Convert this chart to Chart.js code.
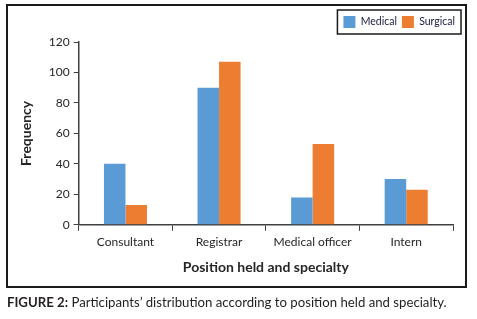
<!DOCTYPE html>
<html><head><meta charset="utf-8">
<script src="https://cdn.jsdelivr.net/npm/chart.js@4.4.1/dist/chart.umd.min.js"></script>
<style>
html,body{margin:0;padding:0;background:#fff;width:477px;height:319px;overflow:hidden;font-family:Lato,"Open Sans",sans-serif;}
#frame{position:absolute;left:6px;top:4px;width:457px;height:280px;border:2px solid #1a1a1a;pointer-events:none;}
#wrap{position:absolute;left:8px;top:6px;width:457px;height:280px;}
#cap{position:absolute;left:7px;top:294px;font-size:13.2px;color:#231f20;white-space:nowrap;}
#cap b{font-weight:700;}
</style></head><body>
<div id="wrap"><canvas id="c" width="457" height="280"></canvas></div>
<div id="frame"></div>
<div id="cap"><b>FIGURE 2:</b> Participants’ distribution according to position held and specialty.</div>
<script>
const categories = ["Consultant","Registrar","Medical officer","Intern"];
const medical = [40, 90, 18, 30];
const surgical = [13, 107, 53, 23];
const seriesNames = ["Medical","Surgical"];
const yTicks = [0,20,40,60,80,100,120];

const legendBorder = {
  id:'legendBorder',
  beforeLayout(chart){
    const lg = chart.legend;
    if(lg && !lg._patched){
      const f = lg.fit.bind(lg);
      lg.fit = function(){ f(); this.height += 4; this.minSize && (this.minSize.height = this.height); };
      lg._patched = true;
    }
  },
  afterDraw(chart){
    const lg = chart.legend;
    if(!lg || !lg.legendHitBoxes || !lg.legendHitBoxes.length) return;
    const hb = lg.legendHitBoxes;
    let x1=Infinity,y1=Infinity,x2=-Infinity,y2=-Infinity;
    hb.forEach(h=>{x1=Math.min(x1,h.left);y1=Math.min(y1,h.top);x2=Math.max(x2,h.left+h.width);y2=Math.max(y2,h.top+h.height);});
    const ctx=chart.ctx;
    ctx.save();
    ctx.strokeStyle='#1a1a1a';ctx.lineWidth=1.5;
    ctx.strokeRect(x1-6,y1-6,(x2-x1)+12,(y2-y1)+12);
    ctx.restore();
  }
};

new Chart(document.getElementById('c'),{
  type:'bar',
  data:{labels:categories,datasets:[
    {label:seriesNames[0],data:medical,backgroundColor:'#5B9BD5',borderWidth:0},
    {label:seriesNames[1],data:surgical,backgroundColor:'#ED7D31',borderWidth:0}
  ]},
  options:{
    responsive:false,animation:false,devicePixelRatio:1,
    categoryPercentage:0.46,barPercentage:1,
    layout:{padding:{left:10,right:5,top:5,bottom:6}},
    plugins:{
      tooltip:{enabled:false},
      legend:{position:'top',align:'end',
        labels:{boxWidth:12,boxHeight:12,padding:5,color:'#1a1a40',font:{family:'Lato',size:10.5}}},
    },
    scales:{
      x:{
        afterFit(s){s.paddingRight=12;},
        grid:{display:true,drawOnChartArea:false,drawTicks:true,tickLength:6,color:'#404040',offset:true},
        border:{display:true,color:'#404040',width:1.5},
        ticks:{color:'#262626',font:{family:'Lato',size:12},padding:4},
        title:{display:true,text:'Position held and specialty',color:'#262626',font:{family:'Lato',size:14,weight:'bold'},padding:{top:6,bottom:4}}
      },
      y:{
        min:0,max:120,
        afterBuildTicks(s){s.ticks=yTicks.map(v=>({value:v}));},
        grid:{display:true,drawOnChartArea:false,drawTicks:true,tickLength:5,color:'#404040'},
        border:{display:true,color:'#404040',width:1.5},
        ticks:{color:'#262626',font:{family:'Lato',size:12},padding:4},
        title:{display:true,text:'Frequency',color:'#262626',font:{family:'Lato',size:14,weight:'bold'},padding:{top:0,bottom:10}}
      }
    }
  },
  plugins:[legendBorder]
});
</script>
</body></html>
